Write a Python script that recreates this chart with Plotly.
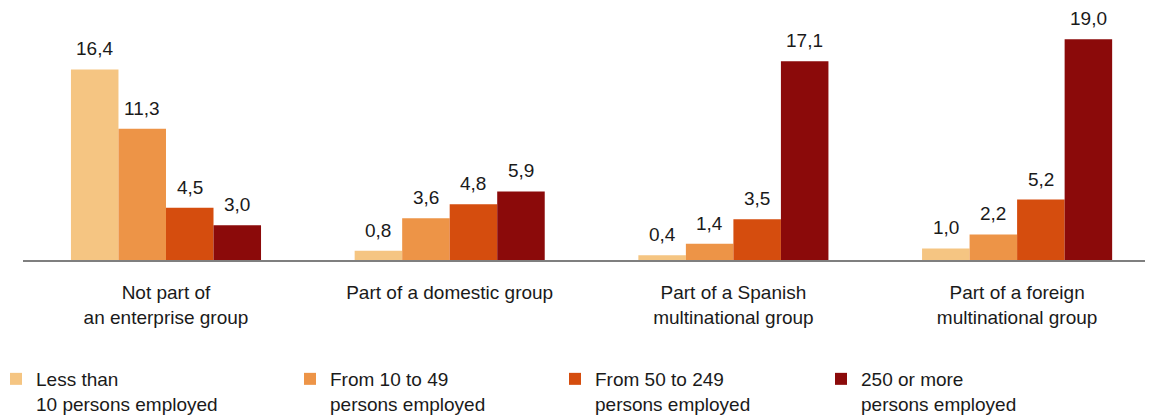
import plotly.graph_objects as go

categories = ["Not part of<br>an enterprise group", "Part of a domestic group",
              "Part of a Spanish<br>multinational group", "Part of a foreign<br>multinational group"]
series_names = ["Less than<br>10 persons employed", "From 10 to 49<br>persons employed",
                "From 50 to 249<br>persons employed", "250 or more<br>persons employed"]
less_than_10 = [16.4, 0.8, 0.4, 1.0]
from_10_to_49 = [11.3, 3.6, 1.4, 2.2]
from_50_to_249 = [4.5, 4.8, 3.5, 5.2]
from_250 = [3.0, 5.9, 17.1, 19.0]
values = [less_than_10, from_10_to_49, from_50_to_249, from_250]
colors = ["#F5C582", "#ED9447", "#D54D0E", "#8B0A0A"]

# the page body adds an 8px margin, so the figure is sized to fit the window
W, H = 1145, 408
ML, MR, MT, MB = 15, 0, 12, 156
FONT = "Liberation Sans, Arial, sans-serif"
FS = 19

x_idx = list(range(len(categories)))
fig = go.Figure()
legend_ids = ["legend", "legend2", "legend3", "legend4"]
for i, (name, vals, col) in enumerate(zip(series_names, values, colors)):
    fig.add_trace(go.Bar(x=x_idx, y=vals, name=name, marker=dict(color=col, line=dict(width=0)),
                         legend=legend_ids[i], hoverinfo="skip"))

# data labels
plot_w = W - ML - MR
x_range = [-0.504, 3.479]
ppu = plot_w / (x_range[1] - x_range[0])
bargap = 0.33
bar_w_units = (1 - bargap) / 4
for i, vals in enumerate(values):
    offset_units = (i - 1.5) * bar_w_units
    for j, v in enumerate(vals):
        fig.add_annotation(x=j, y=v, xref="x", yref="y", text=f"{v:.1f}".replace(".", ","),
                           showarrow=False, yanchor="bottom", xanchor="center",
                           xshift=offset_units * ppu, yshift=8,
                           font=dict(family=FONT, size=FS, color="#1a1a1a"))

legend_left = [0, 282, 547, 813]
legend_indent = [-12, 0, 0, 0]
legend_common = dict(orientation="h", xref="container", yref="container", yanchor="top", xanchor="left",
                     valign="top", itemwidth=30, bgcolor="rgba(0,0,0,0)",
                     font=dict(family=FONT, size=FS, color="#1a1a1a"))
layout_legends = {}
for lid, lx, ind in zip(legend_ids, legend_left, legend_indent):
    layout_legends[lid] = dict(x=lx / W, y=1 - 352 / H, indentation=ind, **legend_common)

fig.update_layout(
    width=W, height=H,
    margin=dict(l=ML, r=MR, t=MT, b=MB),
    paper_bgcolor="white", plot_bgcolor="white",
    barmode="group", bargap=bargap, bargroupgap=0,
    showlegend=True,
    font=dict(family=FONT, size=FS, color="#1a1a1a"),
    xaxis=dict(tickmode="array", tickvals=x_idx, ticktext=categories, range=x_range,
               showline=True, linecolor="#7f7f7f", linewidth=2, ticks="", showgrid=False,
               zeroline=False, ticklabelstandoff=14, automargin=False,
               tickfont=dict(family=FONT, size=FS, color="#1a1a1a")),
    yaxis=dict(range=[0, (H - MT - MB) / 11.62], visible=False, showgrid=False, zeroline=False,
               automargin=False),
    **layout_legends,
)

fig.write_html("out.html")
